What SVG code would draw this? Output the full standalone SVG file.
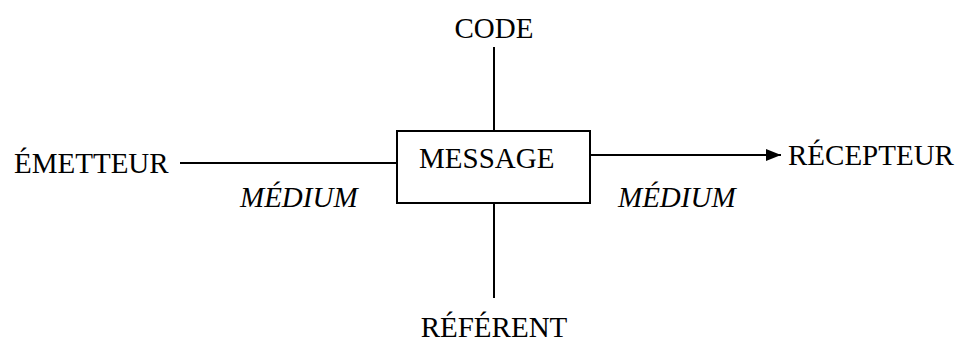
<svg xmlns="http://www.w3.org/2000/svg" width="957" height="343" viewBox="0 0 957 343">
<style>
text { font-family: "Liberation Serif", "Times New Roman", serif; font-size: 29px; fill: #000; }
.it { font-style: italic; }
.ln { stroke: #000; stroke-width: 2; fill: none; }
</style>
<defs>
<marker id="arr" markerWidth="15" markerHeight="12" refX="15" refY="6" orient="auto" markerUnits="userSpaceOnUse">
<path d="M0,0 L15,6 L0,12 Z" fill="#000"/>
</marker>
</defs>
<rect width="957" height="343" fill="#fff"/>
<g id="connectors">
<line class="ln" x1="494" y1="47" x2="494" y2="131"/>
<line class="ln" x1="494" y1="203" x2="494" y2="298"/>
<line class="ln" x1="180" y1="163" x2="397" y2="163"/>
<line class="ln" x1="590" y1="155" x2="781" y2="155" marker-end="url(#arr)"/>
</g>
<g id="message">
<rect class="ln" x="397" y="131" width="193" height="72"/>
<text x="419" y="168">MESSAGE</text>
</g>
<g id="code"><text x="494" y="38" text-anchor="middle">CODE</text></g>
<g id="referent"><text x="494" y="337" text-anchor="middle">RÉFÉRENT</text></g>
<g id="emetteur"><text x="14" y="173">ÉMETTEUR</text></g>
<g id="recepteur"><text x="788" y="165">RÉCEPTEUR</text></g>
<g id="medium-left"><text class="it" x="240" y="207">MÉDIUM</text></g>
<g id="medium-right"><text class="it" x="618" y="207">MÉDIUM</text></g>
</svg>
